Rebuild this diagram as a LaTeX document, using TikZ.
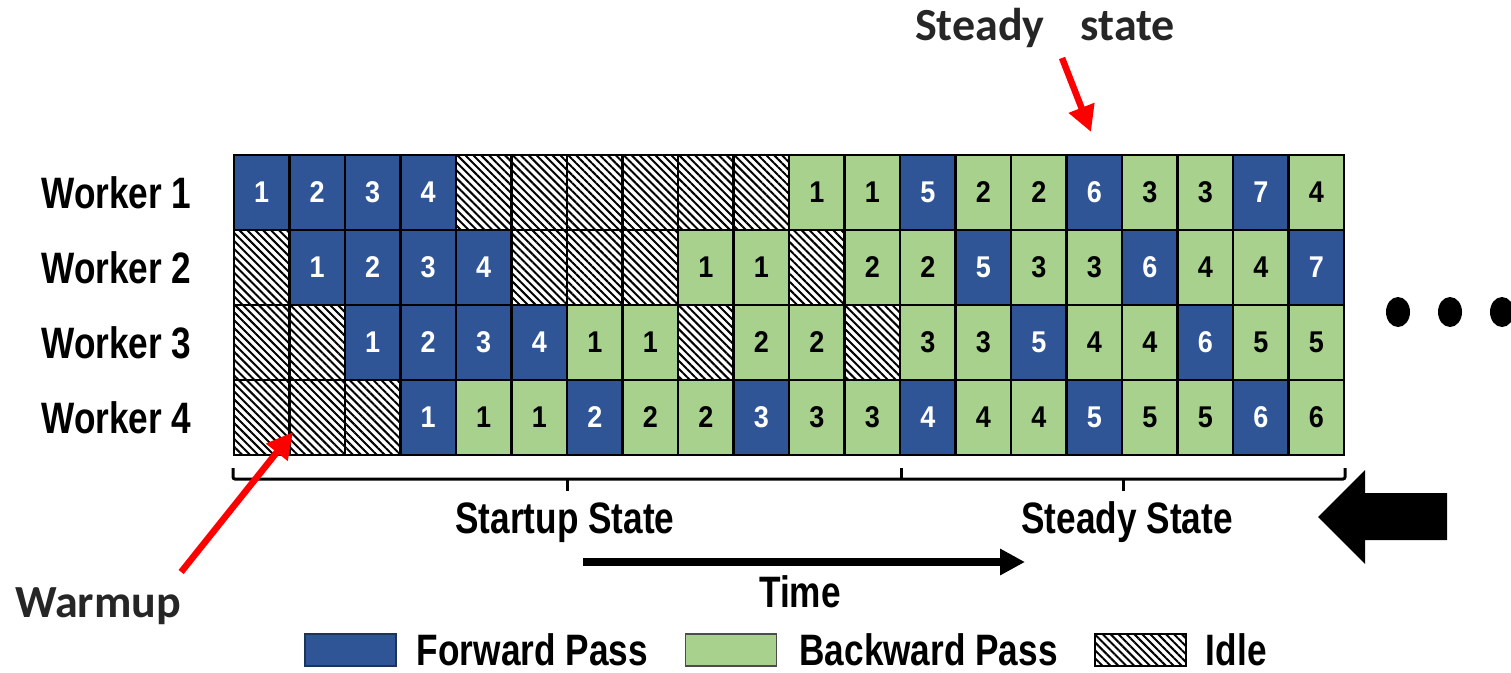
\documentclass[tikz,border=0pt]{standalone}
\usepackage{fontspec}
\setmainfont{Liberation Sans}
\newfontfamily\condfont{Liberation Sans}[FakeStretch=0.8]
\newfontfamily\digfont{Liberation Sans}[FakeStretch=0.9]
\newfontfamily\calfont{Carlito}
\usetikzlibrary{arrows.meta,patterns.meta,positioning}
\definecolor{fwdblue}{HTML}{2F5597}
\definecolor{bwdgreen}{HTML}{A9D18E}
\tikzset{
	cell/.style={draw=black, line width=2.5pt, minimum width=55.5pt, minimum height=75pt,
		inner sep=0pt, font=\digfont\bfseries\fontsize{30}{34}\selectfont},
	fwd/.style={cell, fill=fwdblue, text=white},
	bwd/.style={cell, fill=bwdgreen, text=black},
	idle/.style={cell, pattern={Lines[angle=-45,distance=5.6pt,line width=2pt]}},
	legbox/.style={minimum width=91pt, minimum height=32pt, line width=1.5pt},
	lab/.style={inner sep=0pt, font=\condfont\bfseries\fontsize{44}{50}\selectfont},
	note/.style={inner sep=0pt, text=black!85, font=\calfont\bfseries\fontsize{46}{52}\selectfont},
	redarrow/.style={red, line width=6.5pt, -{Triangle[length=26pt,width=26pt]}},
}
\begin{document}
\begin{tikzpicture}[x=1pt,y=-1pt]
		\useasboundingbox (0,0) rectangle (1511,672);
		% schedule, one row per worker
		\foreach \row [count=\wrk] in {
			{fwd/1,fwd/2,fwd/3,fwd/4,idle/{},idle/{},idle/{},idle/{},idle/{},idle/{},bwd/1,bwd/1,fwd/5,bwd/2,bwd/2,fwd/6,bwd/3,bwd/3,fwd/7,bwd/4},
			{idle/{},fwd/1,fwd/2,fwd/3,fwd/4,idle/{},idle/{},idle/{},bwd/1,bwd/1,idle/{},bwd/2,bwd/2,fwd/5,bwd/3,bwd/3,fwd/6,bwd/4,bwd/4,fwd/7},
			{idle/{},idle/{},fwd/1,fwd/2,fwd/3,fwd/4,bwd/1,bwd/1,idle/{},bwd/2,bwd/2,idle/{},bwd/3,bwd/3,fwd/5,bwd/4,bwd/4,fwd/6,bwd/5,bwd/5},
			{idle/{},idle/{},idle/{},fwd/1,bwd/1,bwd/1,fwd/2,bwd/2,bwd/2,fwd/3,bwd/3,bwd/3,fwd/4,bwd/4,bwd/4,fwd/5,bwd/5,bwd/5,fwd/6,bwd/6}}
			\foreach \k/\n [count=\col] in \row
				\node[\k] (c\wrk-\col) at ({234+55.5*(\col-0.5)},{155+75*(\wrk-0.5)}) {\n};
		\foreach \wrk in {1,...,4}
			\node[lab, left=41pt of c\wrk-1] (w\wrk) {Worker \wrk};
		% bracket under the schedule
		\draw[line width=3pt, rounded corners=2pt] (233,468) |- (1345,479) -- (1345,468);
		\draw[line width=3pt] (901,479) -- (901,468);
		\draw[line width=3pt] (567,479) -- (567,491);
		\draw[line width=3pt] (1123,479) -- (1123,491);
		\node[lab, anchor=base] (startup) at (565,533) {Startup State};
		\node[lab, anchor=base] (steady) at (1127,533) {Steady State};
		% time axis
		\coordinate (t0) at (583,562);
		\coordinate (t1) at (1025,562);
		\draw[line width=8pt, -{Triangle[length=25pt,width=25pt]}] (t0) -- (t1);
		\node[lab] (time) at (800,592) {Time};
		% big arrow and dots
		\fill (1318,517) -- (1365,470) -- (1365,493) -- (1447,493) -- (1447,540)
			-- (1365,540) -- (1365,564) -- cycle;
		\foreach \x in {1398,1450,1502}
			\fill (\x,312) ellipse [x radius=12pt, y radius=15pt];
		% notes
		\node[note, anchor=base] (topnote) at (1045,40) {Steady\hspace{36pt}state};
		\node[note, anchor=base] (warmup) at (98,617) {Warmup};
		\coordinate (steadytail) at (1062,58);
		\coordinate (steadytip) at (1091,132);
		\coordinate (warmtip) at (293,432);
		\draw[redarrow] (steadytail) -- (steadytip);
		\draw[redarrow] ([yshift=15pt]warmup.north east) -- (warmtip);
		% legend
		\node[fwd, legbox, draw=fwdblue!60!black] (legf) at (350.5,650) {};
		\node[lab, right=20pt of legf] (legftext) {Forward Pass};
		\node[bwd, legbox, draw=black!70] (legb) at (731,650) {};
		\node[lab, right=22pt of legb] (legbtext) {Backward Pass};
		\node[idle, legbox, draw=black] (legi) at (1140.5,650) {};
		\node[lab, right=19pt of legi] (legitext) {Idle};
	\end{tikzpicture}
\end{document}
